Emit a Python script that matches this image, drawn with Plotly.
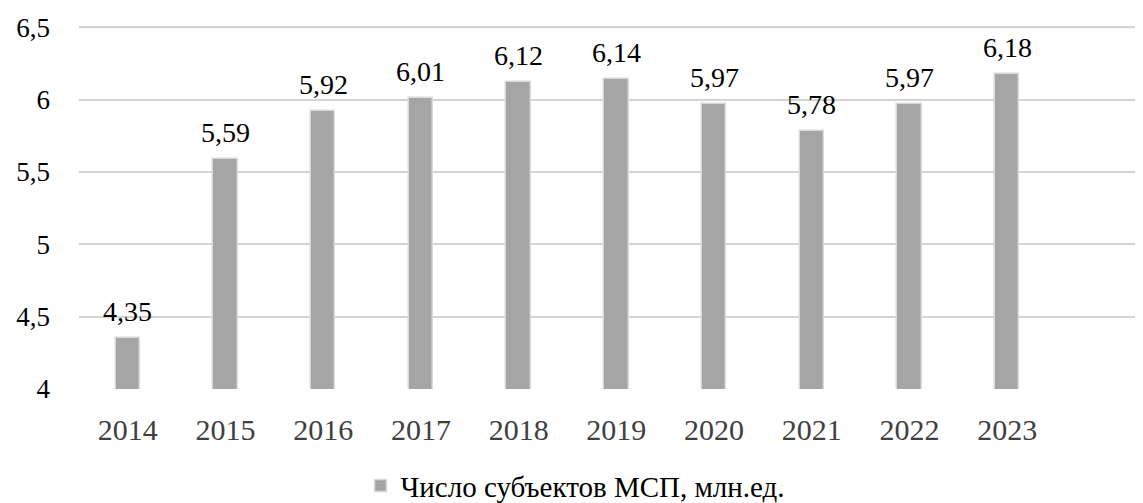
import plotly.graph_objects as go

years = ["2014", "2015", "2016", "2017", "2018", "2019", "2020", "2021", "2022", "2023"]
values = [4.35, 5.59, 5.92, 6.01, 6.12, 6.14, 5.97, 5.78, 5.97, 6.18]
series_name = "Число субъектов МСП, млн.ед."
y_ticks = [4, 4.5, 5, 5.5, 6, 6.5]

FONT = "Liberation Serif, Times New Roman, serif"

fig = go.Figure()
fig.add_trace(go.Bar(
    x=years,
    y=values,
    name=series_name,
    width=0.25,
    marker=dict(color="#a5a5a5", line=dict(color="#d9d9d9", width=1.5)),
    cliponaxis=True,
    showlegend=True,
    hoverinfo="x+y",
))

# top gridline drawn explicitly at the last tick value (in case the grid omits it)
fig.add_hline(y=y_ticks[-1], line=dict(color="#d4d4d4", width=2), layer="above")

for i, v in enumerate(values):
    fig.add_annotation(
        x=i, y=v, xref="x", yref="y",
        text=f"{v:.2f}".replace(".", ","),
        showarrow=False,
        yanchor="bottom", xanchor="center",
        yshift=9,
        font=dict(family=FONT, size=28, color="#000000"),
    )

fig.update_layout(
    width=1135,
    height=495,
    margin=dict(l=71, r=0, t=12, b=114),
    paper_bgcolor="white",
    plot_bgcolor="white",
    separators=", ",
    font=dict(family=FONT, color="#000000"),
    bargap=0,
    showlegend=True,
    legend=dict(
        orientation="h",
        xref="container", yref="container",
        x=0.5, xanchor="center",
        y=0.035, yanchor="middle",
        font=dict(family=FONT, size=29, color="#000000"),
        itemwidth=30,
    ),
    xaxis=dict(
        type="category",
        range=[-0.5, 10.39],
        showgrid=False,
        showline=False,
        ticks="",
        tickfont=dict(family=FONT, size=30, color="#404040"),
        ticklabelstandoff=20,
    ),
    yaxis=dict(
        range=[4, 6.55],
        tickvals=y_ticks,
        showgrid=True,
        gridcolor="#d4d4d4",
        gridwidth=2,
        zeroline=False,
        showline=False,
        ticks="",
        tickfont=dict(family=FONT, size=27, color="#000000"),
        ticklabelstandoff=28,
    ),
)

fig.write_html("out.html", config={"displayModeBar": False})
